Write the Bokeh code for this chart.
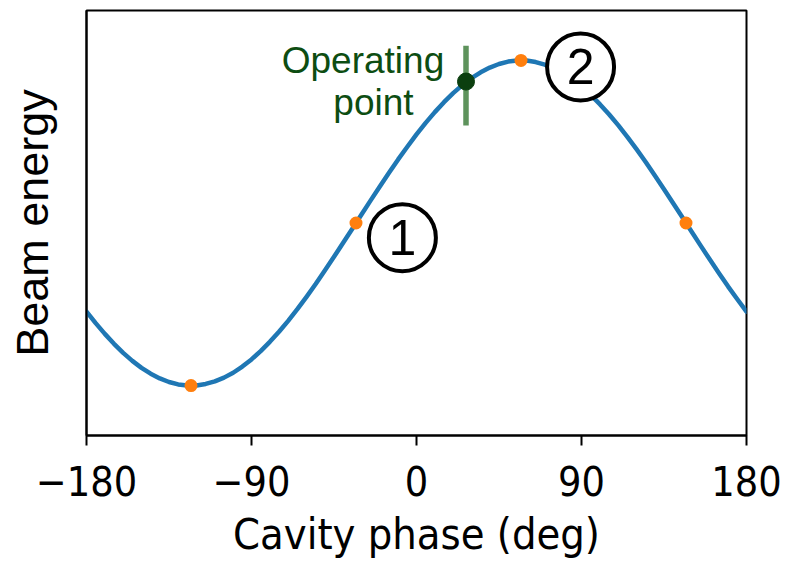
from bokeh.plotting import figure
from bokeh.models import Range1d, FixedTicker, ColumnDataSource
from bokeh.core.properties import value
from bokeh.embed import file_html
from bokeh.resources import INLINE

# Beam energy (normalised) across the full cavity phase sweep, every 5 deg
phase_deg = list(range(-180, 181, 5))
beam_energy = [
    -0.545, -0.616, -0.682, -0.743, -0.799, -0.848, -0.891, -0.927, -0.956, -0.978,
    -0.993, -0.999, -0.999, -0.990, -0.974, -0.951, -0.921, -0.883, -0.839, -0.788,
    -0.731, -0.669, -0.602, -0.530, -0.454, -0.375, -0.292, -0.208, -0.122, -0.035,
    0.052, 0.139, 0.225, 0.309, 0.391, 0.469, 0.545, 0.616, 0.682, 0.743,
    0.799, 0.848, 0.891, 0.927, 0.956, 0.978, 0.993, 0.999, 0.999, 0.990,
    0.974, 0.951, 0.921, 0.883, 0.839, 0.788, 0.731, 0.669, 0.602, 0.530,
    0.454, 0.375, 0.292, 0.208, 0.122, 0.035, -0.052, -0.139, -0.225, -0.309,
    -0.391, -0.469, -0.545,
]

# Phase-scan reference points (minimum, zero crossings, crest)
scan_phase = [-123, -33, 57, 147]
scan_energy = [-1.0, 0.0, 1.0, 0.0]

# Operating point and its phase jitter bar
op_phase = [27]
op_energy = [0.87]
op_bar_low = [0.60]
op_bar_high = [1.09]

# Operating point caption, one entry per line
caption_lines = ["Operating", "point"]
caption_phase = [-29.2, -23.5]
caption_energy = [1.0, 0.742]

# Numbered callouts
callout_text = ["1", "2"]
callout_phase = [-7.7, 89.5]
callout_energy = [-0.09, 0.96]

xtick_values = [-180, -90, 0, 90, 180]
xtick_labels = ["\u2212180", "\u221290", "0", "90", "180"]

TICK_FONT = "DejaVu Sans Condensed"
TEXT_FONT = "Liberation Sans"

p = figure(
    width=792, height=561,
    output_backend="svg", toolbar_location=None,
    x_range=Range1d(-180, 180), y_range=Range1d(-1.307, 1.307),
    min_border_left=86, min_border_right=46,
    min_border_top=10, min_border_bottom=125,
)
p.background_fill_color = "white"
p.border_fill_color = "white"
p.outline_line_color = "black"
p.outline_line_width = 2
p.xgrid.visible = False
p.ygrid.visible = False

# x axis
xa = p.xaxis[0]
xa.ticker = FixedTicker(ticks=xtick_values)
xa.major_label_overrides = dict(zip(xtick_values, xtick_labels))
xa.minor_tick_line_color = None
xa.major_tick_in = 0
xa.major_tick_out = 10
xa.major_tick_line_width = 2
xa.axis_line_width = 2
xa.major_label_text_font = TICK_FONT
xa.major_label_text_font_size = "41px"
xa.major_label_text_color = "black"
xa.major_label_standoff = 20
xa.axis_label = "Cavity phase (deg)"
xa.axis_label_text_font = TICK_FONT
xa.axis_label_text_font_size = "43px"
xa.axis_label_text_font_style = "normal"
xa.axis_label_text_color = "black"
xa.axis_label_standoff = 10

# y axis: label only
ya = p.yaxis[0]
ya.ticker = FixedTicker(ticks=[])
ya.minor_tick_line_color = None
ya.major_tick_line_color = None
ya.axis_line_width = 2
ya.axis_label = "Beam energy"
ya.axis_label_text_font = TEXT_FONT
ya.axis_label_text_font_size = "45px"
ya.axis_label_text_font_style = "normal"
ya.axis_label_text_color = "black"
ya.axis_label_standoff = 29

# energy curve
p.line(phase_deg, beam_energy, line_color="#1f77b4", line_width=4.5,
       line_join="round", line_cap="round")

# scan points
p.scatter(scan_phase, scan_energy, size=13, fill_color="#ff7f0e",
          line_color="#ff7f0e", line_width=0)

# operating point with jitter bar
p.segment(x0=op_phase, y0=op_bar_low, x1=op_phase, y1=op_bar_high,
          line_color="#5e935c", line_width=5.5)
p.scatter(op_phase, op_energy, size=17, fill_color="#0b3f0f",
          line_color="#0b3f0f")
p.text(x=caption_phase, y=caption_energy, text=caption_lines,
       text_font=value(TEXT_FONT), text_font_size="37px",
       text_color="#0d4d12", text_align="center",
       text_baseline="alphabetic")

# numbered callouts
callouts = ColumnDataSource(dict(x=callout_phase, y=callout_energy, t=callout_text))
p.scatter("x", "y", source=callouts, size=67, fill_color="white",
          line_color="black", line_width=4)
p.text("x", "y", text="t", source=callouts,
       text_font=value(TEXT_FONT), text_font_size="50px",
       text_color="black", text_align="center", text_baseline="middle")

open("out.html", "w").write(file_html(p, INLINE))
